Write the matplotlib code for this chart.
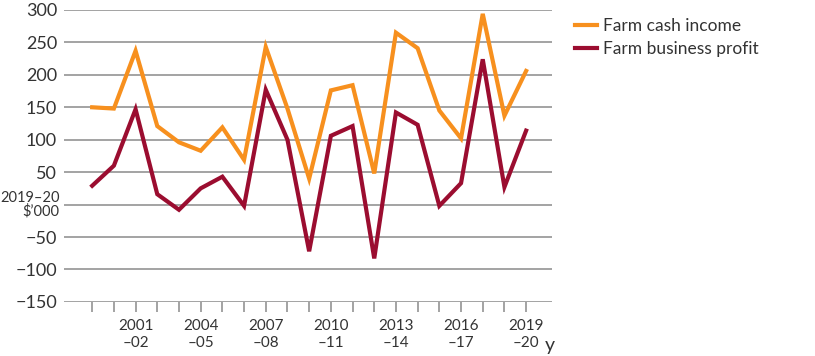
import matplotlib.pyplot as plt

plt.rcParams['font.family'] = ['Lato', 'DejaVu Sans']

years = ["1999-00", "2000-01", "2001-02", "2002-03", "2003-04", "2004-05", "2005-06",
         "2006-07", "2007-08", "2008-09", "2009-10", "2010-11", "2011-12", "2012-13",
         "2013-14", "2014-15", "2015-16", "2016-17", "2017-18", "2018-19", "2019-20"]
cash_income = [150, 148, 237, 121, 96, 83, 119, 69, 243, 148, 40, 176, 184, 48,
               265, 241, 145, 102, 294, 137, 206]
business_profit = [29, 60, 147, 16, -8, 25, 43, -2, 177, 100, -72, 106, 121, -83,
                   142, 123, -2, 33, 224, 27, 114]
tick_labels = ["2001\n\u201302", "2004\n\u201305", "2007\n\u201308", "2010\n\u201311",
               "2013\n\u201314", "2016\n\u201317", "2019\n\u201320"]

orange = "#F7901E"
red = "#9B0D30"
grey = "#8a8a8a"
txt = "#333333"

fig = plt.figure(figsize=(8.15, 3.56), dpi=100)
ax = fig.add_axes([0.0785, 0.152, 0.599, 0.82])

x = list(range(len(years)))
ax.plot(x, cash_income, color=orange, lw=3, solid_joinstyle='miter', label="Farm cash income", zorder=3)
ax.plot(x, business_profit, color=red, lw=3, solid_joinstyle='miter', label="Farm business profit", zorder=3)

yt = list(range(-150, 301, 50))
for v in yt:
    ax.axhline(v, color=grey, lw=1.1, zorder=1)
ax.set_ylim(-150, 300)
ax.set_xlim(-1.3, 21.2)
ax.set_yticks(yt)
ax.set_yticklabels([str(v).replace('-', '\u2212') if v != 0 else "" for v in yt])
ax.tick_params(axis='y', length=0, labelsize=13, colors=txt, pad=5)
# unit label sits where the zero would be
ax.text(-0.009, 0, "2019\u201320\n$\u2019000", transform=ax.get_yaxis_transform(), fontsize=10.5,
        color=txt, ha='right', va='center', linespacing=0.9)

ax.set_xticks(x, minor=True)
ax.set_xticks(x[2::3])
ax.set_xticklabels(tick_labels)
ax.tick_params(axis='x', which='both', length=7, width=1.1, color=grey, labelsize=11, labelcolor=txt, pad=5)
for lab in ax.get_xticklabels():
    lab.set_linespacing(1.3)
for s in ax.spines.values():
    s.set_visible(False)

ax.text(0.984, -0.15, "y", transform=ax.transAxes, fontsize=14, color=txt, ha='left', va='center')

leg = ax.legend(loc='upper left', bbox_to_anchor=(1.0, 1.05), frameon=False, fontsize=12.5,
                handlelength=1.3, handletextpad=0.3, labelspacing=0.4, borderaxespad=0.9)
for t in leg.get_texts():
    t.set_color(txt)

fig.savefig("out.png", dpi=100)
